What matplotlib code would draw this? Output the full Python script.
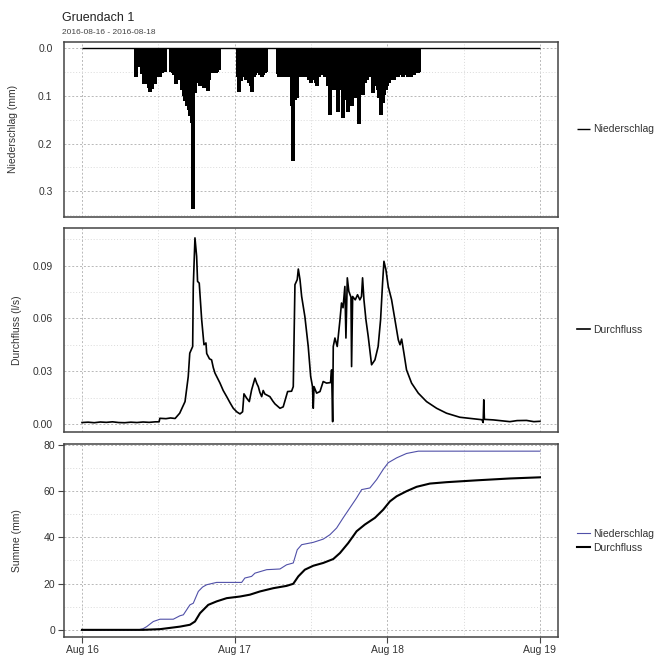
# Gruendach 1 - Niederschlag, Durchfluss und Summen, 16.-18.08.2016
import numpy as np
import pandas as pd
import matplotlib
matplotlib.use('Agg')
import matplotlib.pyplot as plt
import matplotlib.dates as mdates
from matplotlib.ticker import MultipleLocator

plt.rcParams['font.family'] = ['Liberation Sans', 'DejaVu Sans']

start = pd.Timestamp('2016-08-16 00:00')
end = pd.Timestamp('2016-08-19 00:00')

# Niederschlag (mm), 15-min Werte in zwei Regenphasen
rain1_start = '2016-08-16 08:30'
rain1 = [0.06, 0.04, 0, 0, 0.055, 0.076, 0.069, 0.076, 0.083, 0.093,
         0.085, 0.07, 0.076, 0.06, 0.056, 0.06, 0.053, 0.05, 0.05, 0,
         0, 0, 0.05, 0.053, 0.056, 0.076, 0.067, 0.06, 0.067, 0.087,
         0.10, 0.11, 0.122, 0.13, 0.143, 0.157, 0.337, 0.094, 0.074, 0.067,
         0.08, 0.07, 0.08, 0.084, 0.077, 0.09, 0.067, 0.053, 0.053, 0.05,
         0.053, 0.05, 0.045]
rain2_start = '2016-08-17 00:30'
rain2 = [0.06, 0.091, 0.07, 0.056, 0.06, 0.067, 0.067, 0.074, 0.08, 0.091,
         0.06, 0.056, 0.053, 0.03, 0.056, 0.06, 0.056, 0.053, 0.05, 0,
         0, 0, 0, 0, 0, 0.055, 0.06, 0.056, 0.06, 0.056,
         0.06, 0.058, 0.056, 0.06, 0.122, 0.237, 0.108, 0.105, 0.06, 0.053,
         0.06, 0.056, 0.06, 0.053, 0.06, 0.067, 0.074, 0.06, 0.067, 0.074,
         0.08, 0.06, 0.056, 0.053, 0.056, 0.06, 0.056, 0.08, 0.14, 0.08,
         0.087, 0.08, 0.087, 0.133, 0.08, 0.087, 0.146, 0.094, 0.108, 0.133,
         0.115, 0.098, 0.122, 0.087, 0.105, 0.087, 0.16, 0.094, 0.087, 0.098,
         0.074, 0.067, 0.06, 0.06, 0.06, 0.094, 0.08, 0.08, 0.087, 0.105,
         0.14, 0.115, 0.098, 0.087, 0.08, 0.074, 0.067, 0.06, 0.067, 0.06,
         0.056, 0.06, 0.053, 0.056, 0.06, 0.056, 0.053, 0.06, 0.056, 0.06,
         0.053, 0.056, 0.05, 0.053, 0.05]

# Durchfluss (l/s), Zeit in Tagen ab 16.08. 00:00
q_days = [0.00, 0.04, 0.08, 0.12, 0.16, 0.20, 0.24, 0.28, 0.32, 0.36,
          0.40, 0.44, 0.48, 0.505, 0.51, 0.55, 0.58, 0.61, 0.64, 0.675,
          0.696, 0.706, 0.725, 0.729, 0.74, 0.751, 0.757, 0.768, 0.784, 0.799,
          0.812, 0.817, 0.835, 0.849, 0.86, 0.871, 0.904, 0.925, 0.948, 0.97,
          0.991, 1.015, 1.035, 1.052, 1.061, 1.079, 1.096, 1.111, 1.133, 1.145,
          1.155, 1.165, 1.177, 1.187, 1.198, 1.209, 1.231, 1.25, 1.264, 1.297,
          1.318, 1.347, 1.373, 1.384, 1.395, 1.41, 1.417, 1.428, 1.439, 1.46,
          1.482, 1.498, 1.51, 1.515, 1.52, 1.537, 1.559, 1.58, 1.602, 1.628,
          1.635, 1.642, 1.646, 1.657, 1.672, 1.69, 1.70, 1.71, 1.722, 1.729,
          1.738, 1.748, 1.762, 1.766, 1.773, 1.79, 1.805, 1.82, 1.831, 1.838,
          1.847, 1.86, 1.875, 1.897, 1.919, 1.94, 1.956, 1.969, 1.978, 1.991,
          2.006, 2.028, 2.05, 2.072, 2.083, 2.094, 2.109, 2.126, 2.159, 2.203,
          2.257, 2.323, 2.388, 2.475, 2.585, 2.62, 2.628, 2.632, 2.636, 2.694,
          2.75, 2.803, 2.85, 2.912, 2.96, 3.0]
q_vals = [0.0008, 0.0010, 0.0007, 0.0011, 0.0009, 0.0012, 0.0008, 0.0007, 0.0010, 0.0008,
          0.0011, 0.0009, 0.0012, 0.0012, 0.0032, 0.0030, 0.0034, 0.0031, 0.0061, 0.0127,
          0.0269, 0.0402, 0.044, 0.078, 0.1057, 0.0952, 0.081, 0.080, 0.0592, 0.045,
          0.046, 0.040, 0.037, 0.0364, 0.032, 0.0289, 0.0232, 0.019, 0.0155, 0.012,
          0.0089, 0.0068, 0.0057, 0.0069, 0.0171, 0.0146, 0.0127, 0.0193, 0.026, 0.023,
          0.0212, 0.018, 0.0155, 0.019, 0.017, 0.0165, 0.0155, 0.013, 0.0114, 0.0089,
          0.0097, 0.0184, 0.0186, 0.0212, 0.0791, 0.082, 0.088, 0.082, 0.0724, 0.061,
          0.044, 0.027, 0.0212, 0.0089, 0.0212, 0.0175, 0.0184, 0.0241, 0.0232, 0.0235,
          0.0307, 0.0013, 0.044, 0.0488, 0.044, 0.0592, 0.0687, 0.066, 0.0781, 0.0488,
          0.083, 0.0753, 0.072, 0.0326, 0.0724, 0.0705, 0.0734, 0.0705, 0.0724, 0.083,
          0.0705, 0.0592, 0.0497, 0.0336, 0.0364, 0.044, 0.0592, 0.080, 0.0924, 0.0876,
          0.0781, 0.0706, 0.0592, 0.0478, 0.045, 0.0482, 0.0402, 0.0307, 0.0232, 0.0175,
          0.0127, 0.0089, 0.0061, 0.0038, 0.0027, 0.0024, 0.0008, 0.0137, 0.0026, 0.0023,
          0.0018, 0.0013, 0.0019, 0.0020, 0.0013, 0.0015]

# Summen (mm)
sum_n_days = [0, 0.369, 0.40, 0.424, 0.467, 0.511, 0.598, 0.642, 0.664, 0.707,
              0.729, 0.762, 0.79, 0.817, 0.882, 1.046, 1.067, 1.111, 1.133, 1.21,
              1.297, 1.34, 1.384, 1.41, 1.439, 1.515, 1.58, 1.624, 1.668, 1.711,
              1.755, 1.799, 1.832, 1.886, 1.93, 1.973, 2.006, 2.061, 2.126, 2.203, 3.0]
sum_n = [0, 0, 0.5, 1.4, 3.6, 4.6, 4.6, 6.1, 6.5, 10.8,
         11.5, 16.6, 18.5, 19.5, 20.5, 20.5, 22.4, 23.1, 24.5, 26.0,
         26.3, 28.1, 28.9, 34.6, 36.8, 37.8, 39.2, 41.1, 44.0, 48.4,
         52.7, 57.0, 60.6, 61.3, 64.9, 69.3, 72.2, 74.3, 76.2, 77.2, 77.2]
sum_q_days = [0, 0.40, 0.511, 0.642, 0.707, 0.74, 0.773, 0.827, 0.882, 0.948,
              1.035, 1.10, 1.166, 1.253, 1.34, 1.384, 1.417, 1.46, 1.515, 1.58,
              1.646, 1.69, 1.744, 1.799, 1.853, 1.919, 1.973, 2.017, 2.061, 2.126,
              2.192, 2.279, 2.388, 2.585, 2.803, 3.0]
sum_q = [0, 0, 0.3, 1.4, 2.2, 3.6, 7.2, 10.8, 12.3, 13.7,
         14.4, 15.2, 16.6, 18.0, 19.0, 19.9, 23.1, 26.0, 27.7, 28.9,
         30.6, 33.2, 37.5, 42.6, 45.5, 48.4, 51.9, 55.5, 57.7, 59.9,
         61.8, 63.2, 63.8, 64.6, 65.4, 65.9]

# Zeitreihen aufbauen
t_all = pd.date_range(start, end, freq='15min')
precip = pd.Series(0.0, index=t_all)
precip.loc[pd.date_range(rain1_start, periods=len(rain1), freq='15min')] = rain1
precip.loc[pd.date_range(rain2_start, periods=len(rain2), freq='15min')] = rain2

q_t = start + pd.to_timedelta(q_days, unit='D')
sn_t = start + pd.to_timedelta(sum_n_days, unit='D')
sq_t = start + pd.to_timedelta(sum_q_days, unit='D')

txt = '#333333'
fig = plt.figure(figsize=(6.71, 6.59), dpi=100)
left, width = 0.0949, 0.7371
ax1 = fig.add_axes([left, 0.6707, width, 0.2663])
ax2 = fig.add_axes([left, 0.3452, width, 0.3088])
ax3 = fig.add_axes([left, 0.0334, width, 0.2921])

# Niederschlag
ax1.vlines(precip.index.to_numpy(), 0, precip.values, color='black', lw=1.6,
           antialiased=False)
ax1.hlines(0, t_all[0], t_all[-1], color='black', lw=1.0, label='Niederschlag')
ax1.set_ylim(0.3536, -0.0136)
ax1.yaxis.set_major_locator(MultipleLocator(0.1))
ax1.yaxis.set_minor_locator(MultipleLocator(0.05))
ax1.yaxis.set_major_formatter(plt.FormatStrFormatter('%.1f'))
ax1.set_ylabel('Niederschlag (mm)', fontsize=7.5, color=txt)
ax1.yaxis.set_label_coords(-0.092, 0.5)

# Durchfluss
ax2.plot(q_t, q_vals, color='black', lw=1.2, label='Durchfluss')
ax2.set_ylim(-0.0043, 0.1113)
ax2.yaxis.set_major_locator(MultipleLocator(0.03))
ax2.yaxis.set_minor_locator(MultipleLocator(0.015))
ax2.yaxis.set_major_formatter(plt.FormatStrFormatter('%.2f'))
ax2.set_ylabel('Durchfluss (l/s)', fontsize=7.5, color=txt)
ax2.yaxis.set_label_coords(-0.084, 0.5)

# Summen
ax3.plot(sn_t, sum_n, color='#5050a8', lw=0.8, label='Niederschlag')
ax3.plot(sq_t, sum_q, color='black', lw=1.5, label='Durchfluss')
ax3.set_ylim(-3.08, 80.08)
ax3.yaxis.set_major_locator(MultipleLocator(20))
ax3.yaxis.set_minor_locator(MultipleLocator(10))
ax3.set_ylabel('Summe (mm)', fontsize=7.5, color=txt)
ax3.yaxis.set_label_coords(-0.084, 0.5)

pad = pd.Timedelta(days=0.12)
for ax in (ax1, ax2, ax3):
    ax.set_xlim(start - pad, end + pad)
    ax.xaxis.set_major_locator(mdates.DayLocator())
    ax.xaxis.set_minor_locator(mdates.HourLocator(byhour=[12]))
    ax.xaxis.set_major_formatter(mdates.DateFormatter('%b %d'))
    ax.grid(which='major', color='#b8b8b8', ls=(0, (2, 2)), lw=0.7)
    ax.grid(which='minor', color='#dadada', ls=(0, (1, 2)), lw=0.7)
    ax.set_axisbelow(True)
    for s in ax.spines.values():
        s.set_color('#444444')
        s.set_linewidth(1.1)
    ax.tick_params(which='both', labelsize=7.5, labelcolor=txt, color='#444444')
    ax.legend(loc='center left', bbox_to_anchor=(1.03, 0.5), frameon=False,
              handlelength=1.2, handletextpad=0.3, fontsize=7.5, labelcolor=txt,
              borderaxespad=0, labelspacing=0.4)

for ax in (ax1, ax2):
    ax.tick_params(which='both', length=0, pad=8, labelbottom=False)
ax3.tick_params(which='major', length=4, pad=2)
ax3.tick_params(which='minor', length=0)

fig.text(0.0924, 0.972, 'Gruendach 1', fontsize=9, color='#222222', va='center')
fig.text(0.0924, 0.951, '2016-08-16 - 2016-08-18', fontsize=6, color='#444444', va='center')

fig.savefig('out.png', dpi=100)
